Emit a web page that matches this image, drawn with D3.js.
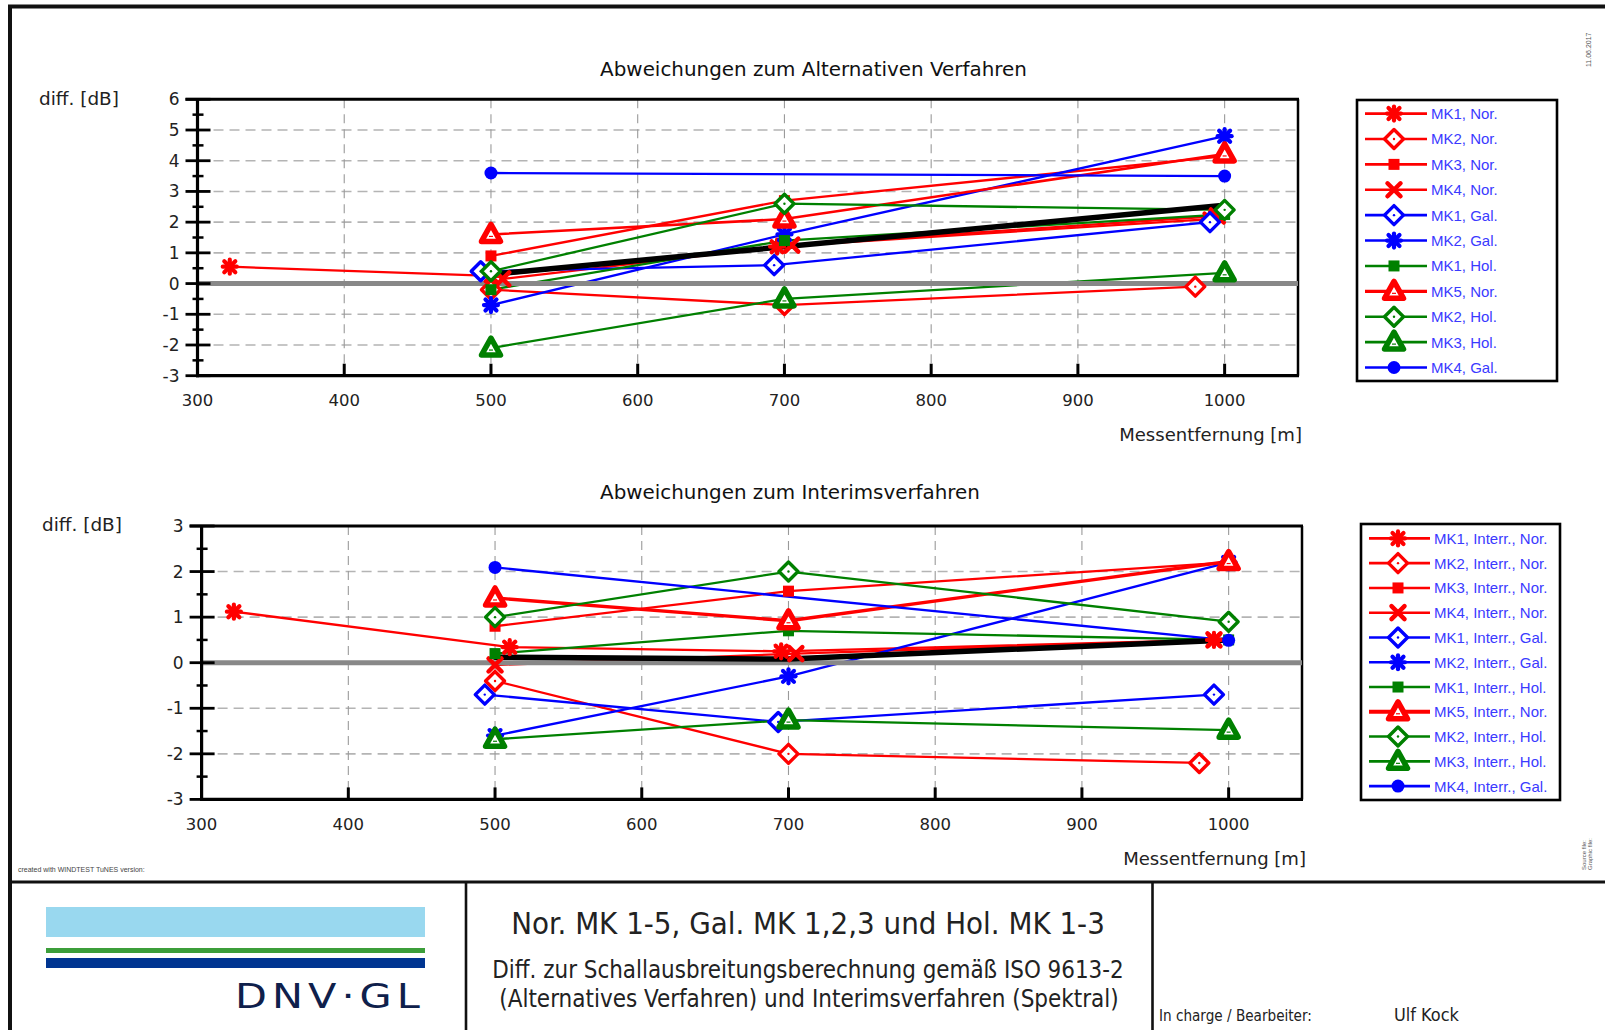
<!DOCTYPE html>
<html><head><meta charset="utf-8">
<script src="https://cdn.jsdelivr.net/npm/d3@7"></script>
<style>html,body{margin:0;padding:0;background:#fff;}svg{display:block;}</style>
</head><body>
<svg id="c" width="1605" height="1030"></svg>
<script>
// ---------- DATA ----------
const xTicks = [300, 400, 500, 600, 700, 800, 900, 1000];
const topYTicks = [-3, -2, -1, 0, 1, 2, 3, 4, 5, 6];
const botYTicks = [-3, -2, -1, 0, 1, 2, 3];

const topNames = ["MK1, Nor.","MK2, Nor.","MK3, Nor.","MK4, Nor.","MK1, Gal.","MK2, Gal.","MK1, Hol.","MK5, Nor.","MK2, Hol.","MK3, Hol.","MK4, Gal."];
const topColors = ["red","red","red","red","blue","blue","green","red","green","green","blue"];
const topSymbols = ["asterisk","diamond","square","x","diamond","asterisk","square","triangle","diamond","triangle","circle"];
const topValues = [
  [[322,0.55],[500,0.25],[695,1.2],[990,2.1]],
  [[500,-0.2],[700,-0.7],[980,-0.1]],
  [[500,0.9],[700,2.7],[1000,4.15]],
  [[508,0.15],[705,1.25],[995,2.2]],
  [[493,0.4],[693,0.6],[990,2.0]],
  [[500,-0.7],[700,1.6],[1000,4.8]],
  [[500,-0.2],[700,1.4],[1000,2.25]],
  [[500,1.6],[700,2.1],[1000,4.22]],
  [[500,0.4],[700,2.6],[1000,2.4]],
  [[500,-2.1],[700,-0.5],[1000,0.35]],
  [[500,3.6],[1000,3.5]]
];
const topTrend = [[500,0.3],[1000,2.55]];

const botNames = ["MK1, Interr., Nor.","MK2, Interr., Nor.","MK3, Interr., Nor.","MK4, Interr., Nor.","MK1, Interr., Gal.","MK2, Interr., Gal.","MK1, Interr., Hol.","MK5, Interr., Nor.","MK2, Interr., Hol.","MK3, Interr., Hol.","MK4, Interr., Gal."];
const botColors = topColors;
const botSymbols = topSymbols;
const botValues = [
  [[322,1.12],[510,0.34],[695,0.25],[990,0.5]],
  [[500,-0.4],[700,-2.0],[980,-2.2]],
  [[500,0.8],[700,1.57],[1000,2.2]],
  [[500,-0.05],[705,0.2],[990,0.5]],
  [[493,-0.7],[693,-1.3],[990,-0.7]],
  [[500,-1.6],[700,-0.3],[1000,2.2]],
  [[500,0.2],[700,0.7],[1000,0.5]],
  [[500,1.42],[700,0.92],[1000,2.22]],
  [[500,1.0],[700,2.0],[1000,0.9]],
  [[500,-1.68],[700,-1.26],[1000,-1.48]],
  [[500,2.09],[1000,0.49]]
];
const botTrend = [[500,0.12],[700,0.08],[1000,0.5]];

// ---------- DRAW ----------
const svg = d3.select("#c");
const FONT = "DejaVu Sans";
const colorMap = {red:"#ff0000", blue:"#0000ff", green:"#008000"};

function fitText(sel, w){
  const n = sel.node(); const cur = n.getComputedTextLength();
  const fs = parseFloat(sel.attr("font-size"));
  sel.attr("font-size", fs * w / cur);
}

function marker(g, sym, color, x, y){
  const c = colorMap[color];
  if(sym==="asterisk"){
    const r=7, r2=5.5;
    [[0,-r,0,r],[-r,0,r,0],[-r2,-r2,r2,r2],[-r2,r2,r2,-r2]].forEach(l=>{
      g.append("line").attr("x1",x+l[0]).attr("y1",y+l[1]).attr("x2",x+l[2]).attr("y2",y+l[3])
       .attr("stroke",c).attr("stroke-width",4.2).attr("stroke-linecap","round");
    });
    g.append("circle").attr("cx",x).attr("cy",y).attr("r",4.5).attr("fill",c);
  } else if(sym==="diamond"){
    const r=9.5;
    g.append("path").attr("d",`M${x},${y-r}L${x+r},${y}L${x},${y+r}L${x-r},${y}Z`)
      .attr("fill","#fff").attr("stroke",c).attr("stroke-width",3.4).attr("stroke-linejoin","round");
    g.append("circle").attr("cx",x).attr("cy",y).attr("r",1.2).attr("fill",c);
  } else if(sym==="square"){
    g.append("rect").attr("x",x-5.5).attr("y",y-5.5).attr("width",11).attr("height",11).attr("fill",c);
  } else if(sym==="x"){
    const r=6.5;
    [[-r,-r,r,r],[-r,r,r,-r]].forEach(l=>{
      g.append("line").attr("x1",x+l[0]).attr("y1",y+l[1]).attr("x2",x+l[2]).attr("y2",y+l[3])
       .attr("stroke",c).attr("stroke-width",4.5).attr("stroke-linecap","round");
    });
  } else if(sym==="triangle"){
    g.append("path").attr("d",`M${x},${y-10}L${x+9.5},${y+7}L${x-9.5},${y+7}Z`)
      .attr("fill","#fff").attr("stroke",c).attr("stroke-width",5.5).attr("stroke-linejoin","round");
    g.append("line").attr("x1",x-2).attr("x2",x+2).attr("y1",y+2).attr("y2",y+2).attr("stroke",c).attr("stroke-width",1.2);
  } else if(sym==="circle"){
    g.append("circle").attr("cx",x).attr("cy",y).attr("r",6.5).attr("fill",c);
  }
}

function drawChart(cfg){
  const x = d3.scaleLinear().domain([300,1050]).range([cfg.x0, cfg.x1]);
  const y = d3.scaleLinear().domain(cfg.yDomain).range([cfg.y0, cfg.y1]);
  const g = svg.append("g");

  const hGrid = cfg.yTicks.filter(v=>v>cfg.yDomain[0] && v<cfg.yDomain[1] && v!==0);
  g.append("g").selectAll("line").data(hGrid).join("line")
    .attr("x1",cfg.x0).attr("x2",cfg.x1).attr("y1",d=>y(d)).attr("y2",d=>y(d))
    .attr("stroke","#b4b4b4").attr("stroke-width",1.6).attr("stroke-dasharray","10,6");
  g.append("g").selectAll("line").data(xTicks.filter(v=>v>300)).join("line")
    .attr("x1",d=>x(d)).attr("x2",d=>x(d)).attr("y1",cfg.y1).attr("y2",cfg.y0)
    .attr("stroke","#9a9a9a").attr("stroke-width",1.1).attr("stroke-dasharray","9,6");

  g.append("line").attr("x1",cfg.x0-12).attr("x2",cfg.x1+1).attr("y1",cfg.y1).attr("y2",cfg.y1)
    .attr("stroke","#000").attr("stroke-width",3);
  g.append("line").attr("x1",cfg.x1).attr("x2",cfg.x1).attr("y1",cfg.y1).attr("y2",cfg.y0)
    .attr("stroke","#000").attr("stroke-width",2.5);

  const line = d3.line().x(d=>x(d[0])).y(d=>y(d[1]));
  const lg = g.append("g").attr("fill","none");
  cfg.values.forEach((vals,i)=>{
    lg.append("path").attr("d",line(vals)).attr("stroke",colorMap[cfg.colors[i]])
      .attr("stroke-width", cfg.symbols[i]==="triangle" && cfg.colors[i]==="red" ? cfg.mk5w : 2.3)
      .attr("stroke-linejoin","round");
  });

  g.append("line").attr("x1",cfg.x0).attr("x2",cfg.x1).attr("y1",y(0)).attr("y2",y(0))
    .attr("stroke","#888").attr("stroke-width",5);

  g.append("path").attr("d",line(cfg.trend)).attr("fill","none").attr("stroke","#000")
    .attr("stroke-width",5.5).attr("stroke-linecap","round");

  const mg = g.append("g");
  cfg.values.forEach((vals,i)=>{
    vals.forEach(p=>marker(mg, cfg.symbols[i], cfg.colors[i], x(p[0]), y(p[1])));
  });

  const ax = g.append("g");
  ax.append("line").attr("x1",cfg.x0).attr("x2",cfg.x0).attr("y1",cfg.y1-1).attr("y2",cfg.y0+1.5)
    .attr("stroke","#000").attr("stroke-width",3.2);
  const minor = d3.range(cfg.yDomain[0]+0.5, cfg.yDomain[1], 1);
  ax.selectAll(".mj").data(cfg.yTicks).join("line").attr("class","mj")
    .attr("x1",cfg.x0-12).attr("x2",cfg.x0+13).attr("y1",d=>y(d)).attr("y2",d=>y(d))
    .attr("stroke","#000").attr("stroke-width",2.8);
  ax.selectAll(".mn").data(minor).join("line").attr("class","mn")
    .attr("x1",cfg.x0-5).attr("x2",cfg.x0+6).attr("y1",d=>y(d)).attr("y2",d=>y(d))
    .attr("stroke","#000").attr("stroke-width",2.5);
  ax.selectAll("text").data(cfg.yTicks).join("text")
    .attr("x",cfg.x0-18).attr("y",d=>y(d)+6).attr("text-anchor","end")
    .attr("font-family",FONT).attr("font-size",17).attr("fill","#222").text(d=>d);

  ax.append("line").attr("x1",cfg.x0-1.5).attr("x2",cfg.x1+1).attr("y1",cfg.y0).attr("y2",cfg.y0)
    .attr("stroke","#000").attr("stroke-width",3.2);
  ax.selectAll(".xt").data(xTicks.filter(v=>v>300)).join("line").attr("class","xt")
    .attr("x1",d=>x(d)).attr("x2",d=>x(d)).attr("y1",cfg.y0).attr("y2",cfg.y0-12)
    .attr("stroke","#000").attr("stroke-width",3);
  ax.selectAll(".xl").data(xTicks).join("text").attr("class","xl")
    .attr("x",d=>x(d)).attr("y",cfg.xLabelY).attr("text-anchor","middle")
    .attr("font-family",FONT).attr("font-size",16.5).attr("fill","#222").text(d=>d);

  const t = g.append("text").attr("x",cfg.titleX).attr("y",cfg.titleY).attr("text-anchor","middle")
    .attr("font-family",FONT).attr("font-size",19).attr("fill","#111").text(cfg.title);
  fitText(t, cfg.titleW);
  const yl = g.append("text").attr("x",cfg.ylabX).attr("y",cfg.ylabY)
    .attr("font-family",FONT).attr("font-size",18).attr("fill","#222").text("diff. [dB]");
  fitText(yl, 80);
  const xl = g.append("text").attr("x",cfg.xlabR).attr("y",cfg.xlabY).attr("text-anchor","end")
    .attr("font-family",FONT).attr("font-size",18).attr("fill","#222").text("Messentfernung [m]");
  fitText(xl, 183);

  const L = cfg.legend;
  g.append("rect").attr("x",L.x).attr("y",L.y).attr("width",L.w).attr("height",L.h)
    .attr("fill","#fff").attr("stroke","#000").attr("stroke-width",2.6);
  cfg.names.forEach((nm,i)=>{
    const yy = L.first + i*L.step;
    g.append("line").attr("x1",L.lx0).attr("x2",L.lx1).attr("y1",yy).attr("y2",yy)
      .attr("stroke",colorMap[cfg.colors[i]])
      .attr("stroke-width", cfg.symbols[i]==="triangle" && cfg.colors[i]==="red" ? cfg.mk5w+0.5 : 2.6);
    marker(g, cfg.symbols[i], cfg.colors[i], L.mx, yy);
    g.append("text").attr("x",L.tx).attr("y",yy+5.5).attr("font-family","Liberation Sans, Arial")
      .attr("font-size",15).attr("fill","#3a3aff").text(nm);
  });
}

svg.append("rect").attr("x",10).attr("y",6.5).attr("width",1640).attr("height",1060)
  .attr("fill","none").attr("stroke","#111").attr("stroke-width",4);

drawChart({
  x0:197.5, x1:1298, y0:375.7, y1:99.3, yDomain:[-3,6], yTicks:topYTicks,
  values:topValues, colors:topColors, symbols:topSymbols, names:topNames, trend:topTrend, mk5w:2.6,
  xLabelY:406, title:"Abweichungen zum Alternativen Verfahren", titleX:813.5, titleY:76, titleW:427,
  ylabX:39, ylabY:105, xlabR:1302, xlabY:441,
  legend:{x:1357,y:100,w:200,h:281,first:113.6,step:25.39,lx0:1365,lx1:1427,mx:1394,tx:1431}
});
drawChart({
  x0:201.6, x1:1302, y0:799.4, y1:526, yDomain:[-3,3], yTicks:botYTicks,
  values:botValues, colors:botColors, symbols:botSymbols, names:botNames, trend:botTrend, mk5w:3.4,
  xLabelY:830, title:"Abweichungen zum Interimsverfahren", titleX:790, titleY:499, titleW:380,
  ylabX:42, ylabY:531, xlabR:1306, xlabY:865,
  legend:{x:1361,y:524,w:199,h:276,first:538.4,step:24.77,lx0:1369,lx1:1430,mx:1398,tx:1434}
});

svg.append("text").attr("x",18).attr("y",872).attr("font-family","Liberation Sans, Arial")
  .attr("font-size",7).attr("fill","#444").text("created with WINDTEST TuNES version:");
svg.append("text").attr("transform","translate(1591,67) rotate(-90)").attr("font-family","Liberation Sans, Arial")
  .attr("font-size",7).attr("fill","#555").text("11.06.2017");
svg.append("text").attr("transform","translate(1586,870) rotate(-90)").attr("font-family","Liberation Sans, Arial")
  .attr("font-size",6).attr("fill","#555").text("Source file:");
svg.append("text").attr("transform","translate(1592,870) rotate(-90)").attr("font-family","Liberation Sans, Arial")
  .attr("font-size",6).attr("fill","#555").text("Graphic file:");

svg.append("line").attr("x1",10).attr("x2",1605).attr("y1",882).attr("y2",882).attr("stroke","#111").attr("stroke-width",3);
svg.append("line").attr("x1",466).attr("x2",466).attr("y1",882).attr("y2",1030).attr("stroke","#111").attr("stroke-width",2.6);
svg.append("line").attr("x1",1152.5).attr("x2",1152.5).attr("y1",882).attr("y2",1030).attr("stroke","#111").attr("stroke-width",2.6);

// logo
svg.append("rect").attr("x",46).attr("y",907).attr("width",379).attr("height",30).attr("fill","#99d8ef");
svg.append("rect").attr("x",46).attr("y",948).attr("width",379).attr("height",5).attr("fill","#3c9e3a");
svg.append("rect").attr("x",46).attr("y",958).attr("width",379).attr("height",10).attr("fill","#003591");
const logo = svg.append("text").attr("font-family","DejaVu Sans").attr("font-size",33)
  .attr("fill","#0f204b").attr("letter-spacing",4).text("DNV·GL");
{
  const w = logo.node().getComputedTextLength();
  const sx = 190 / w;
  logo.attr("transform",`translate(235,1008) scale(${sx},1)`);
}

// footer texts
const FF = "DejaVu Sans Condensed, DejaVu Sans";
const f1 = svg.append("text").attr("x",808).attr("y",934).attr("text-anchor","middle").attr("font-family",FF)
  .attr("font-stretch","condensed").attr("font-size",26).attr("fill","#222").text("Nor. MK 1-5, Gal. MK 1,2,3 und Hol. MK 1-3");
fitText(f1, 594);
const f2 = svg.append("text").attr("x",808).attr("y",978).attr("text-anchor","middle").attr("font-family",FF)
  .attr("font-stretch","condensed").attr("font-size",21).attr("fill","#222").text("Diff. zur Schallausbreitungsberechnung gemäß ISO 9613-2");
fitText(f2, 632);
const f3 = svg.append("text").attr("x",809).attr("y",1007).attr("text-anchor","middle").attr("font-family",FF)
  .attr("font-stretch","condensed").attr("font-size",21).attr("fill","#222").text("(Alternatives Verfahren) und Interimsverfahren (Spektral)");
fitText(f3, 620);
const f4 = svg.append("text").attr("x",1159).attr("y",1021).attr("font-family",FF)
  .attr("font-stretch","condensed").attr("font-size",15).attr("fill","#222").text("In charge / Bearbeiter:");
fitText(f4, 153);
const f5 = svg.append("text").attr("x",1394).attr("y",1021).attr("font-family",FF)
  .attr("font-stretch","condensed").attr("font-size",15).attr("fill","#222").text("Ulf Kock");
fitText(f5, 65);
</script>
</body></html>
